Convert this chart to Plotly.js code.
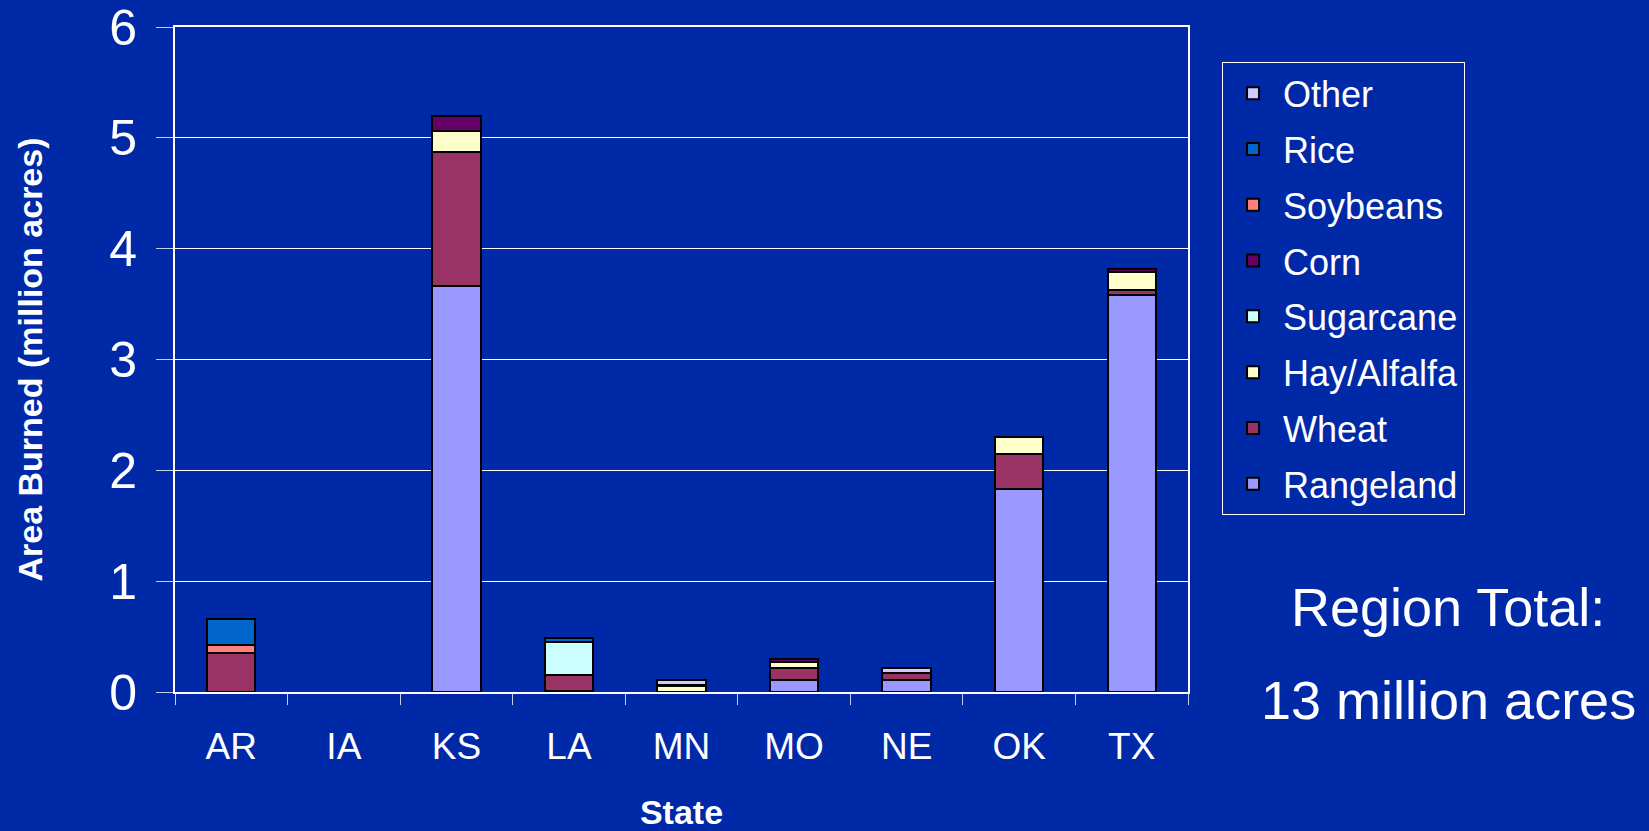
<!DOCTYPE html>
<html>
<head>
<meta charset="utf-8">
<script src="https://cdn.plot.ly/plotly-3.0.1.min.js"></script>
<style>
html,body{margin:0;padding:0;background:#0029A8;}
#chart{width:1649px;height:831px;}
</style>
</head>
<body>
<div id="chart"></div>
<script>
const states = ["AR","IA","KS","LA","MN","MO","NE","OK","TX"];
const rangeland = [null, null, 3.66, 0.01, null, 0.11, 0.105, 1.83, 3.58];
const wheat     = [0.355, null, 1.21, 0.14, null, 0.11, 0.065, 0.32, 0.05];
const hay       = [null, null, 0.19, null, 0.05, 0.05, null, 0.15, 0.16];
const sugarcane = [null, null, null, 0.30, null, null, null, null, null];
const corn      = [null, null, 0.14, null, 0.01, 0.03, 0.005, null, 0.03];
const soybeans  = [0.065, null, null, null, null, null, null, null, null];
const rice      = [0.24, null, null, 0.035, null, null, null, null, null];
const other     = [null, null, null, null, 0.05, null, 0.045, null, null];

const seriesNames = ["Rangeland","Wheat","Hay/Alfalfa","Sugarcane","Corn","Soybeans","Rice","Other"];
const seriesValues = [rangeland, wheat, hay, sugarcane, corn, soybeans, rice, other];
const seriesColors = ["#9999FF","#993366","#FFFFCC","#CCFFFF","#660066","#FF8080","#0066CC","#CCCCFF"];

const FONT = "Arial, 'Liberation Sans', sans-serif";

const traces = seriesNames.map((n, i) => ({
  type: "bar",
  name: n,
  x: states,
  y: seriesValues[i],
  legendgroup: n,
  legendrank: seriesNames.length - i,
  marker: {color: seriesColors[i], line: {color: "#000000", width: 2}},
  hoverinfo: "x+y+name"
}));

const layout = {
  width: 1649, height: 831,
  paper_bgcolor: "#0029A8",
  plot_bgcolor: "#0029A8",
  barmode: "stack",
  bargap: 0.57,
  margin: {l: 175, r: 461, t: 27, b: 139, autoexpand: false},
  font: {family: FONT, color: "#FFFFFF"},
  xaxis: {
    type: "category",
    tickson: "boundaries",
    ticks: "outside", ticklen: 11, tickwidth: 1, tickcolor: "#C8CCF0",
    showline: true, linecolor: "#FFFFFF", linewidth: 2, mirror: true,
    showgrid: false,
    tickfont: {size: 37, color: "#FFFFFF", family: FONT},
    ticklabelstandoff: 21,
    title: {text: "<b>State</b>", font: {size: 34, color: "#FFFFFF", family: FONT}, standoff: 40},
    automargin: false
  },
  yaxis: {
    range: [0, 6],
    dtick: 1,
    ticks: "outside", ticklen: 17, tickwidth: 1, tickcolor: "#C8CCF0",
    showline: true, linecolor: "#FFFFFF", linewidth: 2, mirror: true,
    showgrid: true, gridcolor: "#FFFFFF", gridwidth: 1,
    zeroline: false,
    tickfont: {size: 50, color: "#FFFFFF", family: FONT},
    ticklabelstandoff: 9,
    ticklabeloverflow: "allow",
    title: {text: "<b>Area Burned (million acres)</b>", font: {size: 34, color: "#FFFFFF", family: FONT}, standoff: 56},
    automargin: false
  },
  legend: {
    x: 1.0336, y: 0.947, xanchor: "left", yanchor: "top",
    traceorder: "grouped",
    bgcolor: "#0029A8",
    bordercolor: "#FFFFFF", borderwidth: 1,
    font: {size: 36, color: "#FFFFFF", family: FONT},
    itemwidth: 50,
    tracegroupgap: 6
  },
  annotations: [
    {text: "Region Total:", xref: "paper", yref: "paper", x: 1.2567, y: 0.128,
     xanchor: "center", yanchor: "middle", showarrow: false,
     font: {size: 54, color: "#FFFFFF", family: FONT}},
    {text: "13 million acres", xref: "paper", yref: "paper", x: 1.2567, y: -0.012,
     xanchor: "center", yanchor: "middle", showarrow: false,
     font: {size: 54, color: "#FFFFFF", family: FONT}}
  ],
  showlegend: true
};

Plotly.newPlot("chart", traces, layout, {displayModeBar: false, staticPlot: true});
</script>
</body>
</html>
